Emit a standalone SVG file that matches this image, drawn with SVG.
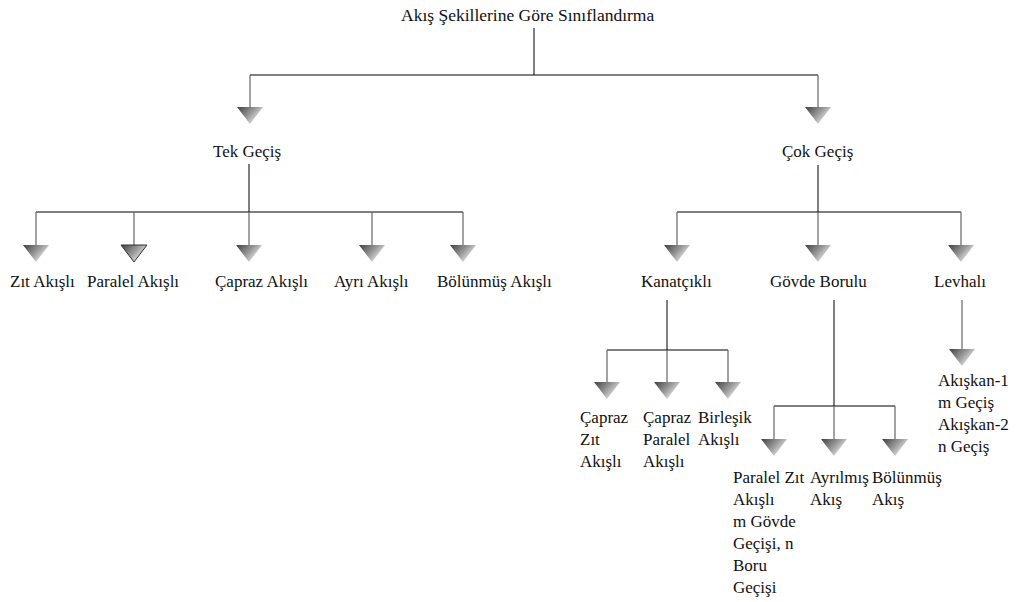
<svg xmlns="http://www.w3.org/2000/svg" xmlns:xlink="http://www.w3.org/1999/xlink" width="1016" height="602" viewBox="0 0 1016 602">
<style>
text{font-family:'Liberation Serif','Times New Roman',serif;font-size:17px;fill:#111}
.title{font-size:17.5px}
.ln{stroke:#000;stroke-width:1;fill:none}
.st{stroke:#666;stroke-width:1.2;fill:none}
</style>
<defs>
<linearGradient id="g" x1="0" y1="0" x2="1" y2="0.6">
<stop offset="0" stop-color="#3f3f3f"/>
<stop offset="0.55" stop-color="#9a9a9a"/>
<stop offset="1" stop-color="#f4f4f4"/>
</linearGradient>
<path id="tri" d="M-13,0 L13,0 L0,17 Z" fill="url(#g)"/>
</defs>
<rect width="1016" height="602" fill="#fff"/>
<g id="connectors">
<path class="ln" d="M534,28 V75 M250,75 H818"/>
<path class="st" d="M250,75 V107 M818,75 V107"/>
<path class="ln" d="M249,164 V212 M36,212 H463"/>
<path class="st" d="M36,212 V245 M134,212 V245 M249,212 V245 M372,212 V245 M463,212 V245"/>
<path class="ln" d="M818,165 V212 M677,212 H961"/>
<path class="st" d="M677,212 V245 M818,212 V245 M961,212 V245"/>
<path class="ln" d="M667,300 V350 M607,350 H728"/>
<path class="st" d="M607,350 V382 M667,350 V382 M728,350 V382"/>
<path class="ln" d="M834,300 V406 M774,406 H895"/>
<path class="st" d="M774,406 V439 M834,406 V439 M895,406 V439"/>
<path class="st" d="M962,300 V349"/>
<use xlink:href="#tri" x="250" y="107"/>
<use xlink:href="#tri" x="818" y="107"/>
<use xlink:href="#tri" x="36" y="245"/>
<use xlink:href="#tri" x="134" y="245" stroke="#333" stroke-width="1"/>
<use xlink:href="#tri" x="249" y="245"/>
<use xlink:href="#tri" x="372" y="245"/>
<use xlink:href="#tri" x="463" y="245"/>
<use xlink:href="#tri" x="677" y="245"/>
<use xlink:href="#tri" x="818" y="245"/>
<use xlink:href="#tri" x="961" y="245"/>
<use xlink:href="#tri" x="607" y="382"/>
<use xlink:href="#tri" x="667" y="382"/>
<use xlink:href="#tri" x="728" y="382"/>
<use xlink:href="#tri" x="774" y="439"/>
<use xlink:href="#tri" x="834" y="439"/>
<use xlink:href="#tri" x="895" y="439"/>
<use xlink:href="#tri" x="962" y="349"/>
</g>
<g id="root"><text class="title" x="401" y="21">Akış Şekillerine Göre Sınıflandırma</text></g>
<g id="tek"><text x="213" y="157">Tek Geçiş</text></g>
<g id="cok"><text x="782" y="157">Çok Geçiş</text></g>
<g id="zit"><text x="10" y="287">Zıt Akışlı</text></g>
<g id="paralel"><text x="87" y="287">Paralel Akışlı</text></g>
<g id="capraz"><text x="215" y="287">Çapraz Akışlı</text></g>
<g id="ayri"><text x="334" y="287">Ayrı Akışlı</text></g>
<g id="bolunmus"><text x="437" y="287">Bölünmüş Akışlı</text></g>
<g id="kanatcikli"><text x="641" y="287">Kanatçıklı</text></g>
<g id="govde"><text x="770" y="287">Gövde Borulu</text></g>
<g id="levhali"><text x="934" y="287">Levhalı</text></g>
<g id="capraz-zit"><text x="580" y="423">Çapraz</text><text x="580" y="445">Zıt</text><text x="580" y="467">Akışlı</text></g>
<g id="capraz-paralel"><text x="643" y="423">Çapraz</text><text x="643" y="445">Paralel</text><text x="643" y="467">Akışlı</text></g>
<g id="birlesik"><text x="698" y="423">Birleşik</text><text x="698" y="445">Akışlı</text></g>
<g id="paralel-zit"><text x="733" y="483">Paralel Zıt</text><text x="733" y="505">Akışlı</text><text x="733" y="527">m Gövde</text><text x="733" y="549">Geçişi, n</text><text x="733" y="571">Boru</text><text x="733" y="593">Geçişi</text></g>
<g id="ayrilmis"><text x="810" y="483">Ayrılmış</text><text x="810" y="505">Akış</text></g>
<g id="bolunmus-akis"><text x="872" y="483">Bölünmüş</text><text x="872" y="505">Akış</text></g>
<g id="akiskan"><text x="938" y="386">Akışkan-1</text><text x="938" y="408">m Geçiş</text><text x="938" y="430">Akışkan-2</text><text x="938" y="452">n Geçiş</text></g>
</svg>
